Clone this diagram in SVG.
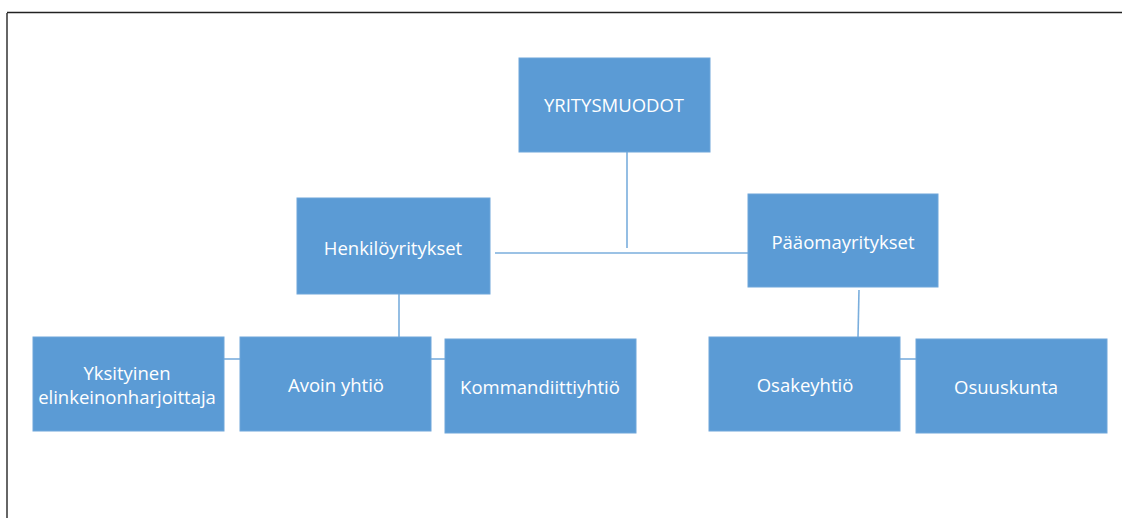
<svg xmlns="http://www.w3.org/2000/svg" width="1122" height="518" viewBox="0 0 1122 518">
<style>
.box{fill:#5B9BD5;stroke:#6FA6DA;stroke-width:1}
.t{fill:#FFFFFF;font-family:"Open Sans","Liberation Sans",sans-serif;font-size:18.5px;text-anchor:middle;dominant-baseline:central}
.c{stroke:#7AAEDD;stroke-width:1.6;fill:none}
</style>
<rect width="1122" height="518" fill="#FFFFFF"/>
<line x1="7" y1="12.5" x2="1122" y2="12.5" stroke="#222" stroke-width="1.5"/>
<line x1="7" y1="13" x2="7" y2="518" stroke="#333" stroke-width="1.5"/>
<g id="connectors">
<line class="c" x1="627" y1="152" x2="627" y2="248"/>
<line class="c" x1="495" y1="253" x2="748" y2="253"/>
<line class="c" x1="399" y1="294" x2="399" y2="337"/>
<line class="c" x1="224" y1="359" x2="240" y2="359"/>
<line class="c" x1="431" y1="359" x2="445" y2="359"/>
<line class="c" x1="859" y1="290" x2="858" y2="337"/>
<line class="c" x1="900" y1="359" x2="916" y2="359"/>
</g>
<g id="yritysmuodot"><rect class="box" x="519" y="58" width="191" height="94"/><text class="t" x="614" y="104">YRITYSMUODOT</text></g>
<g id="henkiloyritykset"><rect class="box" x="297" y="198" width="193" height="96"/><text class="t" x="393" y="247">Henkilöyritykset</text></g>
<g id="paaomayritykset"><rect class="box" x="748" y="194" width="190" height="93"/><text class="t" x="843" y="241">Pääomayritykset</text></g>
<g id="yksityinen"><rect class="box" x="33" y="337" width="191" height="94"/><text class="t" x="127" y="372">Yksityinen</text><text class="t" x="127" y="396">elinkeinonharjoittaja</text></g>
<g id="avoin"><rect class="box" x="240" y="337" width="191" height="94"/><text class="t" x="336" y="384">Avoin yhtiö</text></g>
<g id="kommandiitti"><rect class="box" x="445" y="339" width="191" height="94"/><text class="t" x="540" y="386">Kommandiittiyhtiö</text></g>
<g id="osakeyhtio"><rect class="box" x="709" y="337" width="191" height="94"/><text class="t" x="805" y="384">Osakeyhtiö</text></g>
<g id="osuuskunta"><rect class="box" x="916" y="339" width="191" height="94"/><text class="t" x="1006" y="386">Osuuskunta</text></g>
</svg>
